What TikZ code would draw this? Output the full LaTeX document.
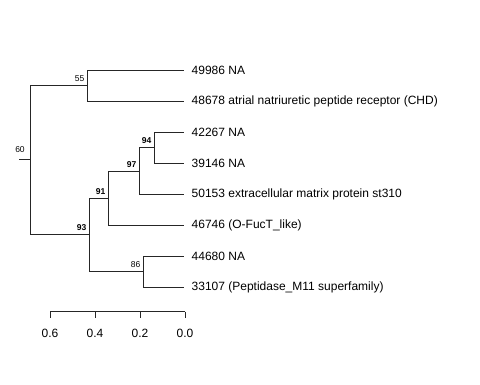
\documentclass[tikz,border=0pt]{standalone}
\usepackage{fontspec}
\setmainfont{Liberation Sans}
\usetikzlibrary{positioning}

\tikzset{
  edge/.style={line width=0.7pt, black!85},
  leaf/.style={anchor=west, inner sep=0pt, font=\fontsize{12}{12}\selectfont},
  support/.style={anchor=south east, inner sep=0pt, xshift=-3pt, yshift=3.5pt, font=\fontsize{8.5}{8.5}\selectfont},
  strong/.style={support, font=\fontsize{8.5}{8.5}\selectfont\bfseries},
  ticklabel/.style={inner sep=0pt, font=\fontsize{12}{12}\selectfont}
}

\begin{document}
\begin{tikzpicture}[x=1pt, y=-1pt]
\useasboundingbox (0,0) rectangle (480,384);

\coordinate (r0) at (19,159);
\coordinate (r) at (30.5,159);
\coordinate (n55) at (87.5,85.5);
\coordinate (n93) at (89.5,234);
\coordinate (n91) at (108.5,198);
\coordinate (n97) at (139.5,171);
\coordinate (n94) at (154.5,147.5);
\coordinate (n86) at (143.5,271.5);

\coordinate (t1) at (184,70);
\coordinate (t2) at (184,101);
\coordinate (t3) at (184,132);
\coordinate (t4) at (184,163);
\coordinate (t5) at (184,194);
\coordinate (t6) at (184,225);
\coordinate (t7) at (184,256);
\coordinate (t8) at (184,287);

\draw[edge] (r0) -- (r);
\draw[edge] (r) |- (n55);
\draw[edge] (r) |- (n93);
\draw[edge] (n55) |- (t1);
\draw[edge] (n55) |- (t2);
\draw[edge] (n93) |- (n91);
\draw[edge] (n93) |- (n86);
\draw[edge] (n91) |- (n97);
\draw[edge] (n91) |- (t6);
\draw[edge] (n97) |- (n94);
\draw[edge] (n97) |- (t5);
\draw[edge] (n94) |- (t3);
\draw[edge] (n94) |- (t4);
\draw[edge] (n86) |- (t7);
\draw[edge] (n86) |- (t8);

\node[leaf] (l1) at ([xshift=7.5pt]t1) {49986 NA};
\node[leaf] (l2) at ([xshift=7.5pt]t2) {48678 atrial natriuretic peptide receptor (CHD)};
\node[leaf] (l3) at ([xshift=7.5pt]t3) {42267 NA};
\node[leaf] (l4) at ([xshift=7.5pt]t4) {39146 NA};
\node[leaf] (l5) at ([xshift=7.5pt]t5) {50153 extracellular matrix protein st310};
\node[leaf] (l6) at ([xshift=7.5pt]t6) {46746 (O-FucT\_like)};
\node[leaf] (l7) at ([xshift=7.5pt]t7) {44680 NA};
\node[leaf] (l8) at ([xshift=7.5pt]t8) {33107 (Peptidase\_M11 superfamily)};

\node[support, anchor=south, xshift=0pt, yshift=0pt] (s60) at (23,156.5) {60};
\node[support] (s55) at (n55) {55};
\node[strong] (s93) at (n93) {93};
\node[strong] (s91) at (n91) {91};
\node[strong] (s97) at (n97) {97};
\node[strong] (s94) at (n94) {94};
\node[support] (s86) at (n86) {86};

\coordinate (a0) at (50,311.5);
\coordinate (a1) at (185,311.5);
\draw[edge] (a0) -- (a1);
\foreach \v in {0.6,0.4,0.2,0.0} {
  \draw[edge] (185-225*\v,311.5) -- ++(0,6.5);
  \node[ticklabel] (tk\v) at (185-225*\v,333) {\v};
}
\end{tikzpicture}
\end{document}
